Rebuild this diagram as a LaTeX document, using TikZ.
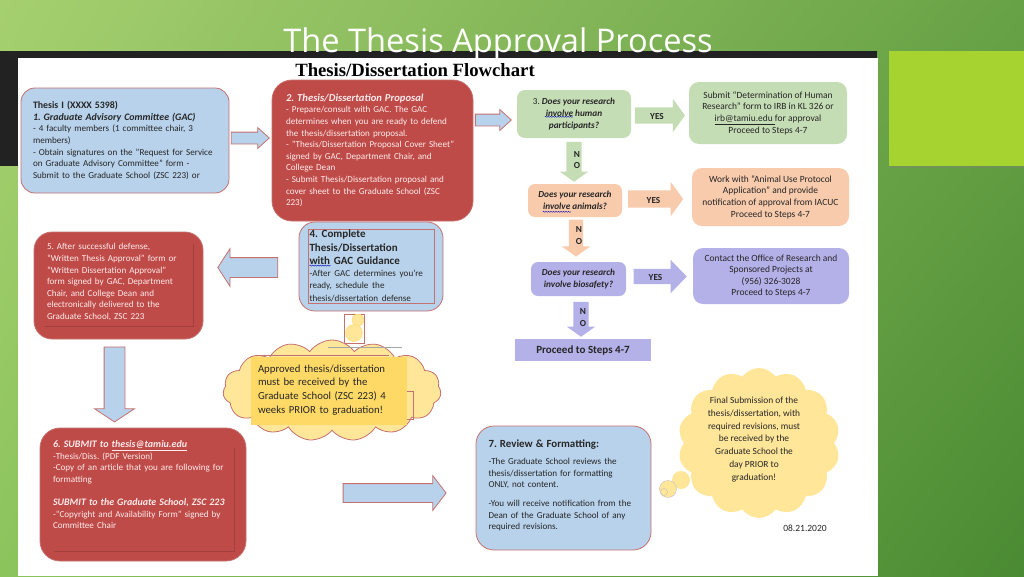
\documentclass[tikz,border=0pt]{standalone}
\usepackage{fontspec}
\usepackage{xcolor}
\setmainfont{Carlito}
\newfontfamily\titlefont{Open Sans}
\newfontfamily\headfont{Liberation Serif}
\usetikzlibrary{calc}
\usetikzlibrary{shadings}
\usetikzlibrary{shapes.arrows}
\usetikzlibrary{shapes.symbols}
\usetikzlibrary{shadows}
\usetikzlibrary{decorations.pathmorphing}
\definecolor{boxblue}{HTML}{B8D2EB}
\definecolor{boxred}{HTML}{BE4B48}
\definecolor{edgered}{HTML}{C4716F}
\definecolor{boxgreen}{HTML}{C5DDB5}
\definecolor{boxorange}{HTML}{F8CBAD}
\definecolor{boxpurple}{HTML}{B4B0E8}
\definecolor{cloudyellow}{HTML}{FFE699}
\definecolor{noteyellow}{HTML}{FFD966}
\definecolor{barblack}{HTML}{222222}
\definecolor{limegreen}{HTML}{A6D32F}
\definecolor{slideul}{HTML}{A6D070}
\definecolor{slideur}{HTML}{68A246}
\definecolor{slidell}{HTML}{8CC45C}
\definecolor{slidelr}{HTML}{4A8A32}
\newcommand{\bodysize}{\fontsize{9.1}{11.6}\selectfont}
\newcommand{\stepsize}{\fontsize{9.45}{11.6}\selectfont}
\newcommand{\boldhead}[2]{{\fontsize{#1}{11.6}\selectfont\textbf{\textit{#2}}}}
\tikzstyle{flowbox} = [rectangle, inner sep=0pt, font=\bodysize]
\tikzstyle{bluebox} = [flowbox, draw=edgered, fill=boxblue, thick, rounded corners=14pt, text=black!85, align=left]
\tikzstyle{redbox} = [flowbox, draw=edgered, fill=boxred, thick, rounded corners=16pt, text=white!92!red, align=left]
\tikzstyle{greenbox} = [flowbox, fill=boxgreen, rounded corners=8pt, text=black!85, align=center]
\tikzstyle{orangebox} = [flowbox, fill=boxorange, rounded corners=7pt, text=black!85, align=center]
\tikzstyle{purplebox} = [flowbox, fill=boxpurple, rounded corners=7pt, text=black!85, align=center]
\tikzstyle{blockarrow} = [single arrow, minimum height=0pt]
\tikzstyle{bluearrow} = [blockarrow, draw=edgered, fill=boxblue, thick]
\tikzstyle{arrowtext} = [inner sep=0pt, font=\fontsize{9.25}{11.6}\selectfont\bfseries, align=center, text=black!85]
\tikzstyle{squiggle} = [draw=blue!70!black, thin, decorate, decoration={snake, amplitude=.5pt, segment length=2.5pt}]
\tikzstyle{shadeline} = [draw=boxred!85!black, thick]
\begin{document}
\frenchspacing
\begin{tikzpicture}[x=1pt, y=-1pt]
    \useasboundingbox (0,0) rectangle (1024,576);
    \shade [upper left=slideul, upper right=slideur, lower left=slidell, lower right=slidelr] (0,0) rectangle (1024,576);
    \fill [barblack] (0,51) rectangle (877,166);
    \fill [white] (18,58) rectangle (878,576);
    \node [fill=limegreen, minimum width=135pt, minimum height=115pt, inner sep=0pt, drop shadow={opacity=.35, shadow xshift=0pt, shadow yshift=-2pt}] (limepanel) at (956.5,108.5) {};
    \node [text=white, inner sep=0pt, font=\titlefont\fontsize{32.6}{36}\selectfont] (slidetitle) at (498,44) {The Thesis Approval Process};
    \node [inner sep=0pt, font=\headfont\bfseries\fontsize{18.7}{20}\selectfont] (charttitle) at (415,70) {Thesis/Dissertation Flowchart};

    \node [bluebox, minimum width=208pt, minimum height=105pt, text width=184pt] (thesis) at (125,140.5) {%
        {\fontsize{9.85}{11.6}\selectfont\textbf{Thesis I (XXXX 5398)}}\\
        \boldhead{9.9}{1. Graduate Advisory Committee (GAC)}\\
        - 4 faculty members (1 committee chair, 3\\
        members)\\
        - Obtain signatures on the "Request for Service\\
        on Graduate Advisory Committee" form -\\
        Submit to the Graduate School (ZSC 223) or
    };
    \node [redbox, rounded corners=20pt, minimum width=201pt, minimum height=141pt, text width=173pt] (proposal) at (372.5,150.5) {%
        \boldhead{10.6}{2. Thesis/Dissertation Proposal}\\
        - Prepare/consult with GAC. The GAC\\
        determines when you are ready to defend\\
        the thesis/dissertation proposal.\\
        - "Thesis/Dissertation Proposal Cover Sheet"\\
        signed by GAC, Department Chair, and\\
        College Dean\\
        - Submit Thesis/Dissertation proposal and\\
        cover sheet to the Graduate School (ZSC\\
        223)
    };
    \node [greenbox, minimum width=114pt, minimum height=48pt] (humans) at (574,114) {%
        3. \boldhead{9.25}{Does your research}\\
        \boldhead{9.25}{involve human}\\
        \boldhead{9.25}{participants?}
    };
    \node [greenbox, rounded corners=10pt, minimum width=158pt, minimum height=62pt, font=\stepsize] (humanstep) at (768,113) {%
        Submit “Determination of Human\\
        Research” form to IRB in KL 326 or\\
        \underline{irb@tamiu.edu }for approval\\
        Proceed to Steps 4-7
    };
    \node [orangebox, minimum width=94pt, minimum height=33pt] (animals) at (575,200.5) {%
        \boldhead{9.25}{Does your research}\\
        \boldhead{9.25}{involve animals?}
    };
    \node [orangebox, rounded corners=10pt, minimum width=157pt, minimum height=58pt, font=\stepsize] (animalstep) at (770.5,197) {%
        Work with “Animal Use Protocol\\
        Application” and provide\\
        notification of approval from IACUC\\
        Proceed to Steps 4-7
    };
    \node [purplebox, minimum width=95pt, minimum height=34pt] (biosafety) at (578.5,279) {%
        \boldhead{9.25}{Does your research}\\
        \boldhead{9.25}{involve biosafety?}
    };
    \node [purplebox, rounded corners=10pt, minimum width=156pt, minimum height=56pt, font=\stepsize] (biostep) at (771,276) {%
        Contact the Office of Research and\\
        Sponsored Projects at\\
        (956) 326-3028\\
        Proceed to Steps 4-7
    };
    \node [rectangle, fill=boxpurple, inner sep=0pt, minimum width=136pt, minimum height=22pt, font=\fontsize{11}{13}\selectfont\bfseries, text=black!85] (proceed) at (583,350) {Proceed to Steps 4-7};
    \node [bluebox, rounded corners=16pt, minimum width=144pt, minimum height=89pt] (guidance) at (371,266.5) {};
    \node [rectangle, draw=edgered, inner sep=0pt, minimum width=126pt, minimum height=74pt, text width=123pt, align=left, text=black!85, font=\fontsize{11}{13.5}\selectfont] (guidancetext) at (371,266) {%
        \textbf{4. Complete}\\
        \textbf{Thesis/Dissertation}\\
        \textbf{with GAC Guidance}\\
        \bodysize -After GAC determines you’re\\
        ready, schedule the\\
        thesis/dissertation defense
    };
    \node [redbox, rounded corners=18pt, minimum width=169pt, minimum height=107pt, text width=143pt] (defense) at (118.5,285.5) {%
        5. After successful defense,\\
        “Written Thesis Approval” form or\\
        “Written Dissertation Approval”\\
        form signed by GAC, Department\\
        Chair, and College Dean and\\
        electronically delivered to the\\
        Graduate School, ZSC 223\\[-3.6pt]
        ~
    };
    \node [redbox, rounded corners=20pt, minimum width=206pt, minimum height=133pt, text width=180pt] (submit) at (143,494.5) {%
        \boldhead{10}{6. SUBMIT to \underline{thesis@tamiu.edu}}\\
        -Thesis/Diss. (PDF Version)\\
        -Copy of an article that you are following for\\
        formatting\\[11.6pt]
        \boldhead{9.95}{SUBMIT to the Graduate School, ZSC 223}\\
        -“Copyright and Availability Form” signed by\\
        Committee Chair\\[8pt]
        ~
    };
    \node [bluebox, rounded corners=18pt, minimum width=175pt, minimum height=124pt, text width=150pt] (review) at (563.5,488) {%
        {\fontsize{10.9}{14}\selectfont\textbf{7. Review \& Formatting:}}\\[6pt]
        -The Graduate School reviews the\\
        thesis/dissertation for formatting\\
        ONLY, not content.\\[7pt]
        -You will receive notification from the\\
        Dean of the Graduate School of any\\
        required revisions.\\[-4.6pt]
        ~
    };

    \node [cloud, cloud puffs=15, cloud puff arc=110, aspect=2.1, draw=edgered, fill=cloudyellow, thick, inner sep=0pt, minimum width=218pt, minimum height=101pt] (notecloud) at (332,390.5) {};
    \draw [black!35] ($(notecloud.north)+(-4,8)$) -- +(74,0);
    \node [fill=noteyellow, inner sep=0pt, minimum width=156pt, minimum height=68pt, text width=142pt, align=left, text=black!85, font=\fontsize{10.75}{13.6}\selectfont] (notetext) at (329,391) {%
        Approved thesis/dissertation\\
        must be received by the\\
        Graduate School (ZSC 223) 4\\
        weeks PRIOR to graduation!\\[-9.6pt]
        ~
    };
    \draw [edgered] ($(notecloud.north)+(-71,15.5)$) -- +(128,0);
    \draw [edgered] ($(notetext.east)+(0,0)$) -- ++(5.5,0) -- ++(0,28) -- ++(-5.5,0);
    \node [rectangle, draw=edgered, inner sep=0pt, minimum width=20pt, minimum height=29pt] (bubblebox) at (354,328.5) {};
    \node [circle, fill=cloudyellow, draw=noteyellow, inner sep=0pt, minimum size=12pt] (bubbletop) at (358,320) {};
    \node [circle, fill=cloudyellow, draw=noteyellow, inner sep=0pt, minimum size=17pt] (bubblelow) at (354,333) {};

    \node [cloud, cloud puffs=14, cloud puff arc=110, aspect=1.1, fill=cloudyellow, inner sep=0pt, minimum width=162pt, minimum height=150pt] (finalcloud) at (759,443) {};
    \node [inner sep=0pt, align=center, text=black!85, font=\fontsize{9.4}{12.8}\selectfont] (finaltext) at (754,439.5) {%
        Final Submission of the\\
        thesis/dissertation, with\\
        required revisions, must\\
        be received by the\\
        Graduate School the\\
        day PRIOR to\\
        graduation!
    };
    \node [circle, fill=cloudyellow, inner sep=0pt, minimum size=18pt] (finalbubblea) at (681,480) {};
    \node [circle, fill=cloudyellow, draw=black!25, inner sep=0pt, minimum size=17pt] (finalbubbleb) at (668,489) {};
    \node [circle, fill=cloudyellow, draw=black!25, inner sep=0pt, minimum size=7pt] (finalbubblec) at (664,492) {};
    \node [inner sep=0pt, text=black!85, font=\fontsize{9.5}{11}\selectfont] (datestamp) at (805,528) {08.21.2020};

    \node [bluearrow, minimum height=38pt, minimum width=20pt, inner sep=5.5pt, single arrow head extend=4.5pt, single arrow tip angle=84] (thesisarrow) at ($(thesis.east)!.5!(proposal.west)+(-3.5,-7.5)$) {};
    \node [bluearrow, minimum height=36pt, minimum width=20pt, inner sep=5.5pt, single arrow head extend=4.5pt, single arrow tip angle=84] (proposalarrow) at ($(proposal.east)!.5!(humans.west)+(-5,-12.25)$) {};
    \node [bluearrow, minimum height=60pt, minimum width=37pt, inner sep=9.5pt, single arrow head extend=9pt, single arrow tip angle=114, shape border rotate=180] (guidancearrow) at ($(defense.east)!.5!(guidance.west)+(0,-8.5)$) {};
    \node [bluearrow, minimum height=75pt, minimum width=39pt, inner sep=10pt, single arrow head extend=9.5pt, single arrow tip angle=113, shape border rotate=270] (defensearrow) at ($(defense.south)!.5!(submit.north)+(-16.25,-2.5)$) {};
    \node [bluearrow, minimum height=103pt, minimum width=34pt, inner sep=9pt, single arrow head extend=8pt, single arrow tip angle=105] (submitarrow) at ($(submit.east)!.5!(review.west)+(30,1.75)$) {};

    \node [blockarrow, fill=boxgreen, minimum height=50pt, minimum width=33pt, inner sep=8pt, single arrow head extend=8.5pt, single arrow tip angle=108] (yeshuman) at ($(humans.east)!.5!(humanstep.west)+(-3,2)$) {};
    \node [blockarrow, fill=boxgreen, minimum height=40pt, minimum width=28pt, inner sep=7.5pt, single arrow head extend=6.5pt, single arrow tip angle=109, shape border rotate=270] (nohuman) at ($(humans.south)!.5!(animals.north)+(-.5,-2)$) {};
    \node [blockarrow, fill=boxorange, minimum height=55pt, minimum width=34pt, inner sep=8.5pt, single arrow head extend=8.5pt, single arrow tip angle=108] (yesanimal) at ($(animals.east)!.5!(animalstep.west)+(-4.5,.25)$) {};
    \node [blockarrow, fill=boxorange, minimum height=37pt, minimum width=28pt, inner sep=7pt, single arrow head extend=7pt, single arrow tip angle=109, shape border rotate=270] (noanimal) at ($(animals.south)!.5!(biosafety.north)+(-.75,-4)$) {};
    \node [blockarrow, fill=boxpurple, minimum height=53pt, minimum width=33pt, inner sep=7.5pt, single arrow head extend=9pt, single arrow tip angle=92] (yesbio) at ($(biosafety.east)!.5!(biostep.west)+(-3,-1)$) {};
    \node [blockarrow, fill=boxpurple, minimum height=35pt, minimum width=28pt, inner sep=7.5pt, single arrow head extend=6.5pt, single arrow tip angle=109, shape border rotate=270] (nobio) at ($(biosafety.south)!.5!(proceed.north)+(.25,-1)$) {};

    \node [arrowtext] (yeshumantext) at ($(yeshuman.center)+(0,1)$) {YES};
    \node [arrowtext] (nohumantext) at ($(nohuman.center)+(3,1)$) {N\\O};
    \node [arrowtext] (yesanimaltext) at ($(yesanimal.center)+(1,1)$) {YES};
    \node [arrowtext] (noanimaltext) at ($(noanimal.center)+(3,0)$) {N\\O};
    \node [arrowtext] (yesbiotext) at ($(yesbio.center)+(-1,1)$) {YES};
    \node [arrowtext] (nobiotext) at ($(nobio.center)+(2,1)$) {N\\O};

    \draw [squiggle] ($(humans.north west)+(28,27)$) -- +(28,0);
    \draw [squiggle] ($(animals.north west)+(15,28)$) -- +(28,0);
    \draw [squiggle] ($(guidance.north west)+(11,44)$) -- +(21,0);
    \draw [shadeline] ($(defense.south west)+(11,-13)$) -- ($(defense.south east)+(-10,-13)$) -- ($(defense.north east)+(-10,12)$);
    \draw [shadeline] ($(submit.south west)+(14,-10)$) -- ($(submit.south east)+(-12,-10)$) -- ($(submit.north east)+(-12,20)$);
\end{tikzpicture}
\end{document}
